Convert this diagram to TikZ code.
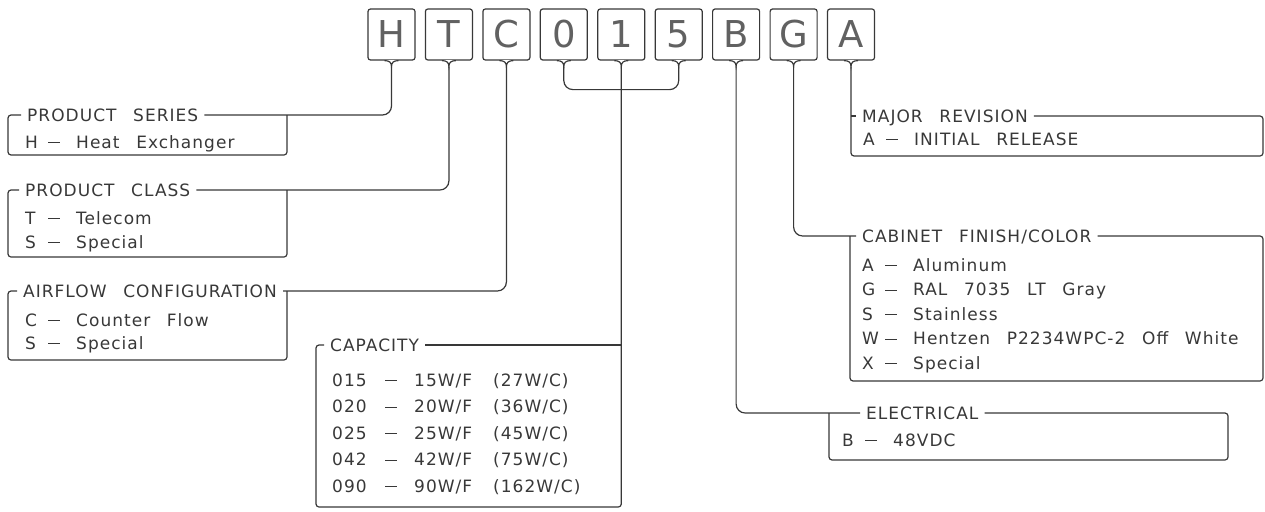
\documentclass[tikz,border=0pt]{standalone}
\usepackage{fontspec}
\newfontfamily\cad[LetterSpace=6,WordSpace=2.6]{DejaVu Sans}
\usepackage{tikz}
\usetikzlibrary{positioning,calc}
\colorlet{ink}{black!78}
\tikzset{
  keybox/.style={draw=ink, line width=1.2pt, rounded corners=2.5pt, minimum width=47pt,
                 minimum height=51pt, inner sep=0pt, text=black!62,
                 font=\cad\fontsize{37}{37}\selectfont},
  hdr/.style  ={anchor=west, inner xsep=6pt, inner ysep=0pt, text height=12pt, text depth=0pt,
                text=ink, font=\cad\fontsize{17}{20}\selectfont},
  txt/.style  ={hdr, inner xsep=0pt},
  frm/.style  ={draw=ink, line width=1.2pt, rounded corners=3pt},
  lead/.style ={frm, rounded corners=9pt},
}
\newcommand{\cdash}{\rule[4.6pt]{12pt}{1.4pt}}
\newcommand{\choice}[2]{\makebox[23pt][l]{#1}\makebox[28pt][l]{\cdash}#2}
\newcommand{\capline}[3]{\makebox[53pt][l]{#1}\makebox[29pt][l]{\cdash}\makebox[79pt][l]{#2}#3}
\newcommand{\notch}[1]{%
  \coordinate (#1-tip) at ($(#1.south)+(0,6)$);
  \fill[white] ($(#1.south)+(-6,-1)$) rectangle ($(#1.south)+(6,1)$);
  \draw[frm, rounded corners=0pt] ($(#1.south)+(-7,0)$) .. controls +(5,0) and +(0,-4) .. (#1-tip)
    .. controls +(0,-4) and +(-5,0) .. ($(#1.south)+(7,0)$);}

\begin{document}
\begin{tikzpicture}[x=1pt, y=-1pt]
  \useasboundingbox (0,0) rectangle (1265,511);
  % model code boxes
  \node[keybox] (kH) at (391.5,34.5) {H};
  \node[keybox] (kT) at (448.9,34.5) {T};
  \node[keybox] (kC) at (506.4,34.5) {C};
  \node[keybox] (k0) at (563.8,34.5) {0};
  \node[keybox] (k1) at (621.3,34.5) {1};
  \node[keybox] (k5) at (678.7,34.5) {5};
  \node[keybox] (kB) at (736.1,34.5) {B};
  \node[keybox] (kG) at (793.6,34.5) {G};
  \node[keybox] (kA) at (851.0,34.5) {A};
  \notch{kH} \notch{kT} \notch{kC} \notch{k0} \notch{k1}
  \notch{k5} \notch{kB} \notch{kG} \notch{kA}

  % headers
  \node[hdr] (hSer) at (21,115)  {PRODUCT SERIES};
  \node[hdr] (hCls) at (19,190)  {PRODUCT CLASS};
  \node[hdr] (hAir) at (17,291)  {AIRFLOW CONFIGURATION};
  \node[hdr] (hCap) at (324,345) {CAPACITY};
  \node[hdr] (hMaj) at (856,116) {MAJOR REVISION};
  \node[hdr] (hCab) at (856,236) {CABINET FINISH/COLOR};
  \node[hdr] (hEl)  at (860,413) {ELECTRICAL};

  % options
  \node[txt] (oSer)  at (25,142)  {\choice{H}{Heat Exchanger}};
  \node[txt] (oCls1) at (25,218)  {\choice{T}{Telecom}};
  \node[txt] (oCls2) at (25,242)  {\choice{S}{Special}};
  \node[txt] (oAir1) at (25,320)  {\choice{C}{Counter Flow}};
  \node[txt] (oAir2) at (25,343)  {\choice{S}{Special}};
  \node[txt] (oCap1) at (332,380) {\capline{015}{15W/F}{(27W/C)}};
  \node[txt] (oCap2) at (332,406.5) {\capline{020}{20W/F}{(36W/C)}};
  \node[txt] (oCap3) at (332,433) {\capline{025}{25W/F}{(45W/C)}};
  \node[txt] (oCap4) at (332,459.5) {\capline{042}{42W/F}{(75W/C)}};
  \node[txt] (oCap5) at (332,486) {\capline{090}{90W/F}{(162W/C)}};
  \node[txt] (oMaj)  at (863,139) {\choice{A}{INITIAL RELEASE}};
  \node[txt] (oCab1) at (862,265) {\choice{A}{Aluminum}};
  \node[txt] (oCab2) at (862,289.5) {\choice{G}{RAL 7035 LT Gray}};
  \node[txt] (oCab3) at (862,314) {\choice{S}{Stainless}};
  \node[txt] (oCab4) at (862,338.5) {\choice{W}{Hentzen P2234WPC-2 Off White}};
  \node[txt] (oCab5) at (862,363) {\choice{X}{Special}};
  \node[txt] (oEl)   at (842,440) {\choice{B}{48VDC}};

  % frames
  \draw[frm] (hSer.west) -| (8,155) -| (287,115);
  \draw[frm] (hCls.west) -| (8,257) -| (287,190);
  \draw[frm] (hAir.west) -| (8,360) -| (287,291);
  \draw[frm] (hCap.west) -| (316,507) -| (k1-tip);
  \draw[frm] (hCap.east) -- (hCap.east -| k1-tip);
  \draw[frm] (hMaj.east) -| (1263,156) -| (kA-tip);
  \draw[frm] (hMaj.west -| kA-tip) -- (hMaj.west);
  \draw[frm] (hCab.east) -| (1263,381) -| (850,236);
  \draw[frm] (hEl.east) -| (1228,460) -| (829,413);

  % leaders
  \draw[lead] (kH-tip) |- (hSer.east);
  \draw[lead] (kT-tip) |- (hCls.east);
  \draw[lead] (kC-tip) |- (hAir.east);
  \draw[lead] (k0-tip) -- ++(0,23) -| (k5-tip);
  \draw[lead] (kB-tip) |- (hEl.west);
  \draw[lead] (kG-tip) |- (hCab.west);
\end{tikzpicture}
\end{document}
